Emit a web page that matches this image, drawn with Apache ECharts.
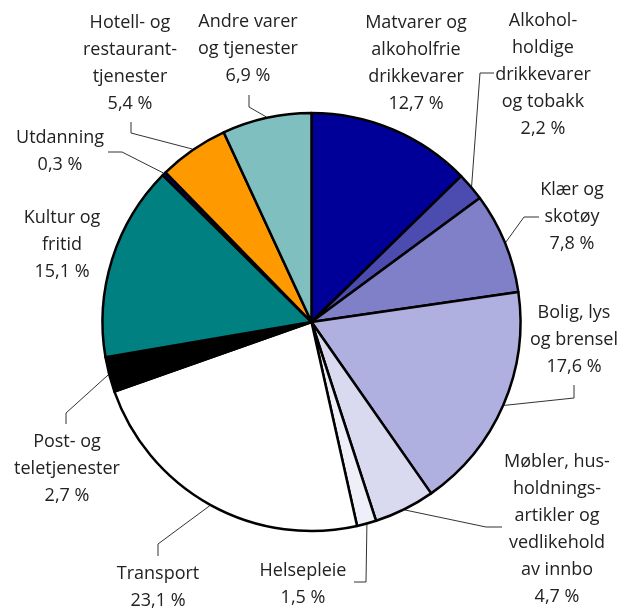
<!DOCTYPE html>
<html>
<head>
<meta charset="utf-8">
<script src="https://cdn.jsdelivr.net/npm/echarts@6/dist/echarts.min.js"></script>
<style>
html,body{margin:0;padding:0;background:#fff;}
#chart{width:634px;height:609px;}
</style>
</head>
<body>
<div id="chart"></div>
<script>
// ---- data ----
const categories = [
  "Matvarer og alkoholfrie drikkevarer",
  "Alkoholholdige drikkevarer og tobakk",
  "Klær og skotøy",
  "Bolig, lys og brensel",
  "Møbler, husholdningsartikler og vedlikehold av innbo",
  "Helsepleie",
  "Transport",
  "Post- og teletjenester",
  "Kultur og fritid",
  "Utdanning",
  "Hotell- og restauranttjenester",
  "Andre varer og tjenester"
];
const labelTexts = [
  "Matvarer og\nalkoholfrie\ndrikkevarer",
  "Alkohol-\nholdige\ndrikkevarer\nog tobakk",
  "Klær og\nskotøy",
  "Bolig, lys\nog brensel",
  "Møbler, hus-\nholdnings-\nartikler og\nvedlikehold\nav innbo",
  "Helsepleie",
  "Transport",
  "Post- og\nteletjenester",
  "Kultur og\nfritid",
  "Utdanning",
  "Hotell- og\nrestaurant-\ntjenester",
  "Andre varer\nog tjenester"
];
const shares = [12.7, 2.2, 7.8, 17.6, 4.7, 1.5, 23.1, 2.7, 15.1, 0.3, 5.4, 6.9];

// ---- styles / layout ----
const colors = ["#000099", "#4b4bb0", "#8080c8", "#b0b0e0", "#d9d9f0", "#efeff9",
                "#ffffff", "#000000", "#008080", "#000080", "#ff9900", "#80bfbf"];
const hasLeader = [false, true, true, true, true, true, true, true, false, true, true, true];
const CX = 311.5, CY = 322, R = 209, LINE_R = 210, LH = 27;
// label anchor: [center x, first line center y]
const labelAnchor = [
  [416, 23], [543, 21], [572, 190], [574, 313], [557, 462], [303, 571],
  [158, 574], [67, 442], [62, 218], [60, 138], [130, 23], [248, 22]
];
// leader line points after the edge point
const leaderTail = [
  [], [[480, 73], [494, 73]], [[524, 217], [539, 217]], [[574, 398], [574, 385]],
  [[486, 527], [502, 527]], [[366, 582], [354, 582]], [[158, 544], [158, 556]],
  [[66, 413], [66, 424]], [], [[122, 152], [108, 152]], [[131, 133], [131, 122]],
  [[249, 107], [249, 95]]
];

function fmt(v) { return v.toFixed(1).replace('.', ',') + ' %'; }

const total = shares.reduce((a, b) => a + b, 0);
const midAngles = [];
let cum = 0;
shares.forEach(v => {
  const mid = (cum + v / 2) / total * 360; // clockwise from top
  midAngles.push((90 - mid) * Math.PI / 180);
  cum += v;
});

const data = categories.map((n, i) => ({
  name: n,
  value: shares[i],
  itemStyle: { color: colors[i] },
  label: { formatter: labelTexts[i] + "\n" + fmt(shares[i]) },
  labelLine: { show: hasLeader[i] }
}));

const chart = echarts.init(document.getElementById('chart'), null, { renderer: 'canvas' });
chart.setOption({
  backgroundColor: '#ffffff',
  animation: false,
  series: [{
    type: 'pie',
    center: [CX, CY],
    radius: [0, R],
    startAngle: 90,
    clockwise: true,
    avoidLabelOverlap: false,
    minShowLabelAngle: 0,
    data: data,
    itemStyle: { borderColor: '#000000', borderWidth: 2.5 },
    label: {
      show: true,
      position: 'outside',
      fontFamily: 'Open Sans',
      fontSize: 18,
      lineHeight: LH,
      color: '#222222',
      align: 'center'
    },
    labelLine: {
      show: true,
      length: 10,
      length2: 10,
      lineStyle: { color: '#333333', width: 1 }
    },
    emphasis: { disabled: true },
    labelLayout: function (params) {
      const i = params.dataIndex;
      const a = midAngles[i];
      const edge = [CX + LINE_R * Math.cos(a), CY - LINE_R * Math.sin(a)];
      const res = {
        x: labelAnchor[i][0],
        y: labelAnchor[i][1] - LH / 2,
        align: 'center',
        verticalAlign: 'top'
      };
      if (hasLeader[i]) {
        res.labelLinePoints = [edge].concat(leaderTail[i]);
      }
      return res;
    }
  }]
});
</script>
</body>
</html>
